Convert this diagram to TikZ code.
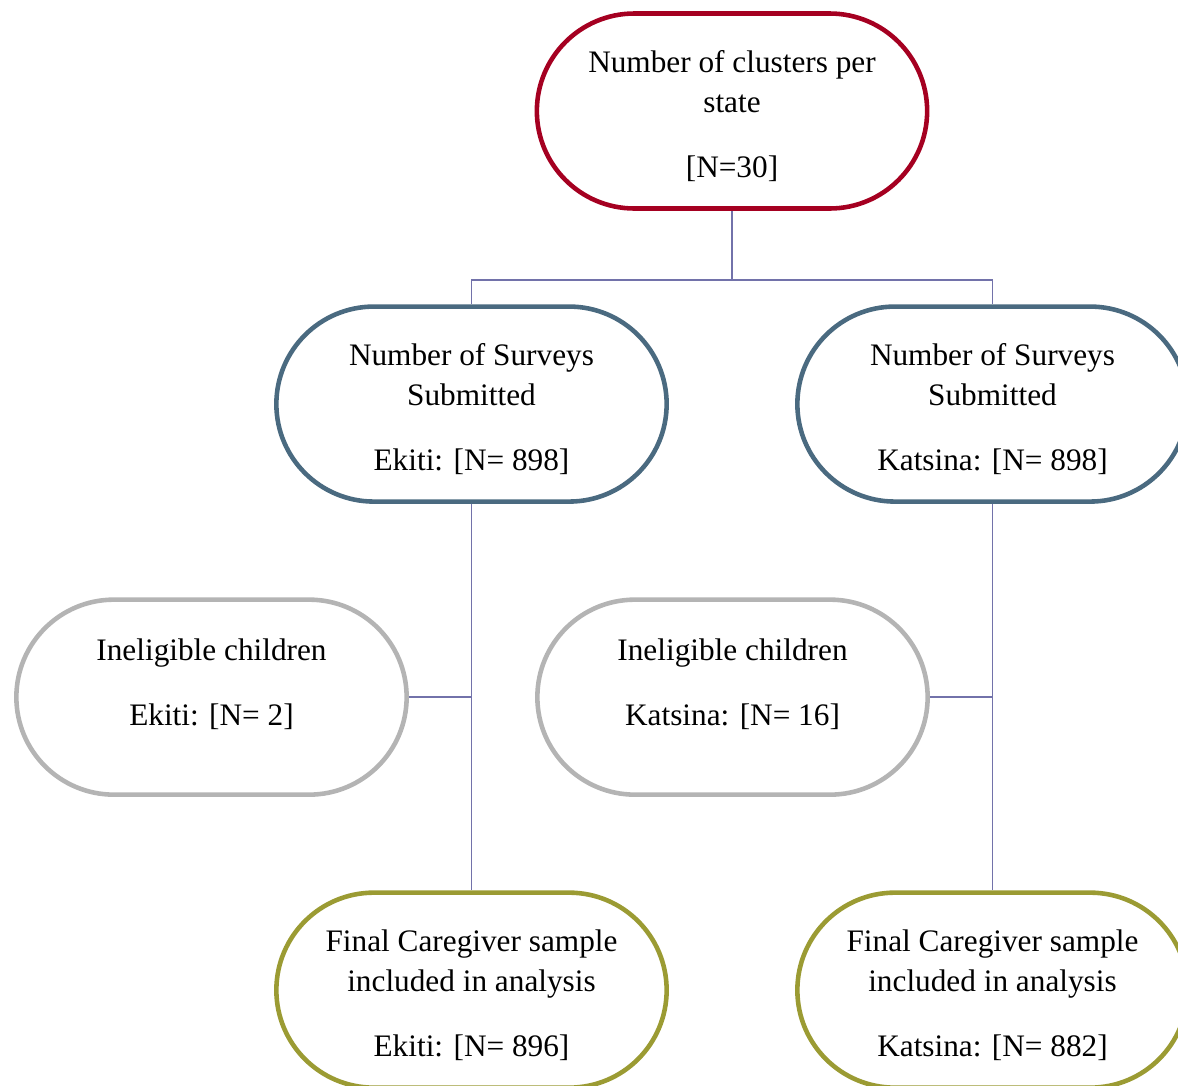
\documentclass[tikz,border=0pt]{standalone}
\usepackage{fontspec}
\setmainfont{Liberation Serif}
\usepackage{tikz}
\usetikzlibrary{positioning,shapes.misc}
\definecolor{clusterred}{HTML}{A50021}
\definecolor{surveyblue}{HTML}{4A6A80}
\definecolor{ineliggray}{HTML}{B4B4B4}
\definecolor{finalolive}{HTML}{9B9B33}
\definecolor{linkpurple}{HTML}{7272AA}

\begin{document}
\begin{tikzpicture}[
	stadium/.style={draw, line width=2.6pt, fill=white, rounded rectangle,
		minimum width=8.04cm, minimum height=3.9cm, align=center,
		font=\fontsize{17.8}{22.8}\selectfont},
	link/.style={draw=linkpurple, line width=1.1pt}
	]
		\useasboundingbox (0,0) rectangle (23.56,-21.7);
		%%nodes
		\node[stadium, draw=clusterred] (top) at (14.64,-2.22)
			{Number of clusters per\\ state\\[14pt] [N=30]\\[-26.5pt]~};
		\node[stadium, draw=surveyblue, below=1.87cm of top, xshift=-5.21cm] (surveyE)
			{Number of Surveys\\ Submitted\\[14pt] Ekiti: [N= 898]\\[-26pt]~};
		\node[stadium, draw=surveyblue, below=1.87cm of top, xshift=5.21cm] (surveyK)
			{Number of Surveys\\ Submitted\\[14pt] Katsina: [N= 898]\\[-26pt]~};
		\node[stadium, draw=ineliggray, below=1.87cm of surveyE, xshift=-5.2cm] (ineligE)
			{Ineligible children\\[14pt] Ekiti: [N= 2]\\[-6pt]~};
		\node[stadium, draw=ineliggray, below=1.87cm of surveyK, xshift=-5.2cm] (ineligK)
			{Ineligible children\\[14pt] Katsina: [N= 16]\\[-6pt]~};
		\node[stadium, draw=finalolive, below=7.73cm of surveyE] (finalE)
			{Final Caregiver sample\\ included in analysis\\[14pt] Ekiti: [N= 896]\\[-26pt]~};
		\node[stadium, draw=finalolive, below=7.73cm of surveyK] (finalK)
			{Final Caregiver sample\\ included in analysis\\[14pt] Katsina: [N= 882]\\[-26pt]~};
		\coordinate[below=1.38cm of top.south] (split);
		%%connectors
		\draw[link] (top.south) -- (split);
		\draw[link] (surveyE.north) |- (split) -| (surveyK.north);
		\draw[link] (surveyE.south) -- (finalE.north);
		\draw[link] (surveyK.south) -- (finalK.north);
		\draw[link] (ineligE.east) -- (ineligE.east -| surveyE.south);
		\draw[link] (ineligK.east) -- (ineligK.east -| surveyK.south);
	\end{tikzpicture}
\end{document}
